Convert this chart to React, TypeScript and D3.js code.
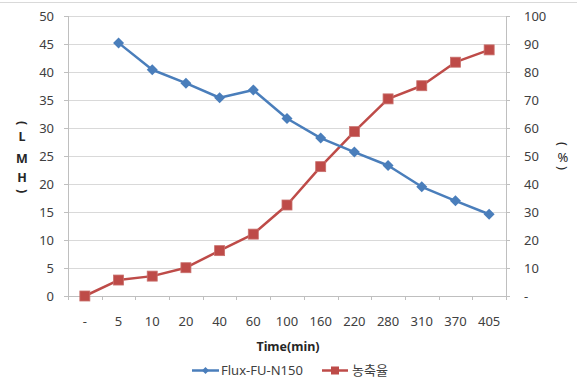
import React from "react";
import * as d3 from "d3";

const categories = ["-", "5", "10", "20", "40", "60", "100", "160", "220", "280", "310", "370", "405"];
const fluxValues: (number | null)[] = [null, 45.2, 40.4, 38.0, 35.4, 36.8, 31.7, 28.2, 25.7, 23.3, 19.5, 17.0, 14.6];
const ratioValues: number[] = [0, 5.7, 7.1, 10.1, 16.2, 22.1, 32.5, 46.2, 58.7, 70.4, 75.1, 83.5, 87.9];
const leftTicks = [0, 5, 10, 15, 20, 25, 30, 35, 40, 45, 50];
const rightTicks = [0, 10, 20, 30, 40, 50, 60, 70, 80, 90, 100];
const seriesNames = ["Flux-FU-N150", "농축율"];

const W = 577, H = 378;
const L = 68, R = 506, T = 16, B = 296;
const FONT = "'Noto Sans', 'Noto Sans CJK KR', sans-serif";
const BLUE = "#4a7ebb";
const RED = "#be4b48";
const FS = 13;

export default function App() {
  const x = d3.scaleBand<string>().domain(categories).range([L, R]);
  const yL = d3.scaleLinear().domain([0, 50]).range([B, T]);
  const yR = d3.scaleLinear().domain([0, 100]).range([B, T]);
  const cx = (c: string) => (x(c) as number) + x.bandwidth() / 2;

  const fluxLine = d3
    .line<number | null>()
    .defined((d) => d != null)
    .x((_, i) => cx(categories[i]))
    .y((d) => yL(d as number));
  const ratioLine = d3
    .line<number>()
    .x((_, i) => cx(categories[i]))
    .y((d) => yR(d));

  const boundaries = categories.map((c) => x(c) as number).concat([R]);

  const diamond = (px: number, py: number, s: number) =>
    `M${px},${py - s}L${px + s},${py}L${px},${py + s}L${px - s},${py}Z`;

  return (
    <svg width={W} height={H} style={{ position: "fixed", left: 0, top: 0, background: "#fff" }} fontFamily={FONT}>
      <rect x={0} y={0} width={W} height={H} fill="#fff" />
      <line x1={0} x2={W} y1={2.5} y2={2.5} stroke="#d9d9d9" strokeWidth={1} />
      {/* gridlines */}
      {leftTicks.map((t) => (
        <line key={"g" + t} x1={L} x2={R} y1={Math.round(yL(t)) + 0.5} y2={Math.round(yL(t)) + 0.5} stroke="#d9d9d9" strokeWidth={1} />
      ))}
      {/* axes */}
      <line x1={L + 0.5} x2={L + 0.5} y1={T} y2={B} stroke="#bfbfbf" />
      <line x1={R + 0.5} x2={R + 0.5} y1={T} y2={B + 4} stroke="#bfbfbf" />
      <line x1={L} x2={R} y1={B + 0.5} y2={B + 0.5} stroke="#bfbfbf" />
      {leftTicks.map((t) => (
        <line key={"lt" + t} x1={L - 4} x2={L} y1={Math.round(yL(t)) + 0.5} y2={Math.round(yL(t)) + 0.5} stroke="#bfbfbf" />
      ))}
      {rightTicks.map((t) => (
        <line key={"rt" + t} x1={R} x2={R + 4} y1={Math.round(yR(t)) + 0.5} y2={Math.round(yR(t)) + 0.5} stroke="#bfbfbf" />
      ))}
      {boundaries.map((b, i) => (
        <line key={"xt" + i} x1={Math.round(b) + 0.5} x2={Math.round(b) + 0.5} y1={B} y2={B + 4} stroke="#bfbfbf" />
      ))}
      {/* tick labels */}
      {leftTicks.map((t) => (
        <text key={"ll" + t} x={54} y={yL(t)} dy="0.35em" textAnchor="end" fontSize={FS} fill="#404040">
          {t}
        </text>
      ))}
      {rightTicks.map((t) => (
        <text key={"rl" + t} x={524} y={yR(t)} dy="0.35em" textAnchor="start" fontSize={FS} fill="#404040">
          {t === 0 ? "-" : t}
        </text>
      ))}
      {categories.map((c) => (
        <text key={"xl" + c} x={cx(c)} y={321} dy="0.35em" textAnchor="middle" fontSize={FS} fill="#404040">
          {c}
        </text>
      ))}
      {/* axis titles */}
      <text x={(L + R) / 2 + 1} y={347} dy="0.35em" textAnchor="middle" fontSize={12.5} fontWeight="bold" fill="#262626">
        Time(min)
      </text>
      <g fontSize={12.5} fontWeight="bold" fill="#262626" textAnchor="middle">
        <text transform="translate(22,123) rotate(90)" dy="0.35em">(</text>
        <text x={22} y={137} dy="0.35em">L</text>
        <text x={22} y={159} dy="0.35em">M</text>
        <text x={22} y={178} dy="0.35em">H</text>
        <text transform="translate(22,191) rotate(90)" dy="0.35em">)</text>
      </g>
      <g fontSize={13} fill="#262626" textAnchor="middle">
        <text transform="translate(563,144) rotate(90)" dy="0.35em">(</text>
        <text x={563} y={157} dy="0.35em">%</text>
        <text transform="translate(563,168) rotate(90)" dy="0.35em">)</text>
      </g>
      {/* series */}
      <path d={ratioLine(ratioValues) || ""} fill="none" stroke={RED} strokeWidth={2.5} strokeLinejoin="round" />
      <path d={fluxLine(fluxValues) || ""} fill="none" stroke={BLUE} strokeWidth={2.5} strokeLinejoin="round" />
      {ratioValues.map((v, i) => (
        <rect key={"rm" + i} x={cx(categories[i]) - 5} y={yR(v) - 5} width={10} height={10} fill={RED} stroke="#c9706d" strokeWidth={0.8} />
      ))}
      {fluxValues.map((v, i) =>
        v == null ? null : <path key={"fm" + i} d={diamond(cx(categories[i]), yL(v), 5.5)} fill={BLUE} />
      )}
      {/* legend */}
      <line x1={192} x2={219} y1={370.5} y2={370.5} stroke={BLUE} strokeWidth={2.5} />
      <path d={diamond(205.5, 370.5, 3.5)} fill={BLUE} />
      <text x={221} y={370.5} dy="0.35em" fontSize={FS} fill="#404040">
        {seriesNames[0]}
      </text>
      <line x1={322} x2={348} y1={370.5} y2={370.5} stroke={RED} strokeWidth={2.5} />
      <rect x={331} y={366.5} width={8} height={8} fill={RED} />
      <text x={352} y={370.5} dy="0.35em" fontSize={FS} fill="#404040">
        {seriesNames[1]}
      </text>
    </svg>
  );
}
